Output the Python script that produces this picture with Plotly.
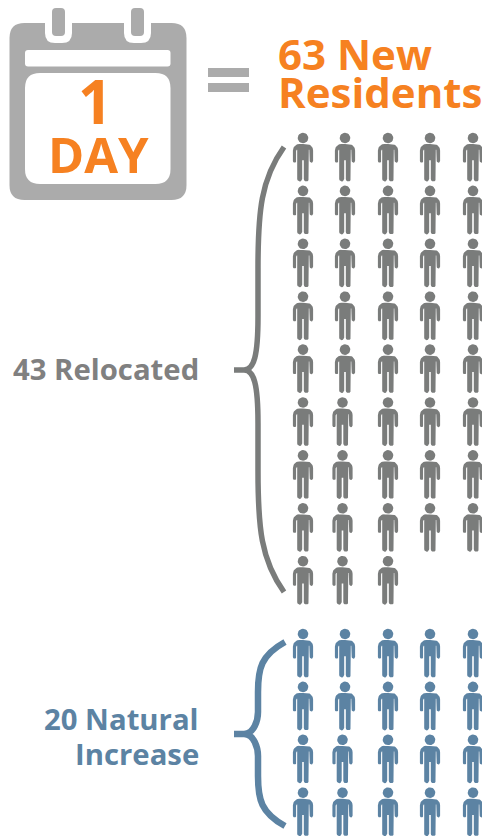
import math

import plotly.graph_objects as go

# one day of population change
group_labels = ["43 Relocated", "20 Natural<br>Increase"]
group_counts = [43, 20]
total_label = ["63 New", "Residents"]
day_label = ["1", "DAY"]

ORANGE = "#F68121"
CAL_GRAY = "#ABABAB"
GRAY = "#7A7C7B"
TEXT_GRAY = "#808080"
BLUE = "#5C83A3"
FONT = "Open Sans"

PER_ROW = 5
ROW_STEP = 52.9
COL_X = [303, 345, 388, 430, 473]


def arc(cx, cy, r, start, end, n=10):
    return [(cx + r * math.cos(math.radians(start + (end - start) * i / n)),
             cy + r * math.sin(math.radians(start + (end - start) * i / n))) for i in range(n + 1)]


def person_outline():
    # right half of the body, top of the head is y=0
    right = [(0, 11.3), (3.6, 11.3)]
    right += arc(3.6, 17.7, 6.5, -90, 0)
    right += arc(8.4, 28.2, 1.7, 0, 180, 6)
    right += [(6.9, 18.2), (6.3, 17), (5.8, 17), (5.8, 46.2)]
    right += arc(3.3, 46.2, 2.5, 0, 180, 6)
    right += [(0.8, 27.5), (0, 27.5)]
    left = [(-x, y) for x, y in reversed(right)]
    return right + left


BODY = person_outline()
HEAD = arc(0, 5.2, 5.3, 0, 360, 24)


def people_trace(count, top, color, name, shift_from):
    xs, ys = [], []
    for i in range(count):
        row, col = divmod(i, PER_ROW)
        cx = COL_X[col]
        if col == 1 and row >= shift_from:
            cx -= 2.5
        cy = top + row * ROW_STEP
        for part in (BODY, HEAD):
            xs += [cx + x for x, _ in part] + [None]
            ys += [cy + y for _, y in part] + [None]
    return go.Scatter(x=xs, y=ys, mode="lines", fill="toself", fillcolor=color,
                      line=dict(width=0, color=color), hoverinfo="name", name=name)


def rrect(x0, y0, x1, y1, r):
    return (f"M{x0 + r},{y0} L{x1 - r},{y0} Q{x1},{y0} {x1},{y0 + r} L{x1},{y1 - r} Q{x1},{y1} {x1 - r},{y1} "
            f"L{x0 + r},{y1} Q{x0},{y1} {x0},{y1 - r} L{x0},{y0 + r} Q{x0},{y0} {x0 + r},{y0} Z")


def fill_shape(path, color):
    return dict(type="path", path=path, fillcolor=color, line=dict(width=0), xref="x", yref="y", layer="below")


def brace(xs, xm, xt, y0, yc, y1, color, width):
    h = (y1 - y0) / 2
    k = h * 0.32
    path = (f"M{xt},{y0} C{xm + 3},{y0 + k * 0.45} {xm},{y0 + k * 0.9} {xm},{y0 + k * 1.7} "
            f"L{xm},{yc - k * 0.75} C{xm},{yc - 14} {xm - 4},{yc} {xs + 10},{yc} L{xs},{yc} "
            f"M{xs + 10},{yc} C{xm - 4},{yc} {xm},{yc + 14} {xm},{yc + k * 0.75} "
            f"L{xm},{y1 - k * 1.7} C{xm},{y1 - k * 0.9} {xm + 3},{y1 - k * 0.45} {xt},{y1}")
    return dict(type="path", path=path, line=dict(color=color, width=width), xref="x", yref="y", layer="below")


fig = go.Figure()
fig.add_trace(people_trace(group_counts[0], 132.8, GRAY, group_labels[0], 5))
fig.add_trace(people_trace(group_counts[1], 628.8, BLUE, group_labels[1], 2))

shapes = [
    fill_shape(rrect(9.5, 23, 186.5, 200, 15), CAL_GRAY),
    fill_shape(rrect(45, 10, 72, 43, 10), "white"),
    fill_shape(rrect(124, 10, 151, 43, 10), "white"),
    fill_shape(rrect(52, 8, 65, 36, 4), CAL_GRAY),
    fill_shape(rrect(131, 8, 144, 36, 4), CAL_GRAY),
    fill_shape(rrect(25, 50, 170.5, 66.5, 3), "white"),
    fill_shape(rrect(25, 73, 170.5, 184, 15), "white"),
    fill_shape("M208,68 L249,68 L249,77 L208,77 Z", CAL_GRAY),
    fill_shape("M208,83 L249,83 L249,92 L208,92 Z", CAL_GRAY),
    brace(234, 258, 284, 147, 370, 592, GRAY, 5.5),
    brace(234, 258, 285, 642, 734, 826, BLUE, 6.5),
]


def text(x, y, s, size, color, anchor="left"):
    return dict(x=x, y=y, text=f"<b>{s}</b>", showarrow=False, xref="x", yref="y", xanchor=anchor, yanchor="middle",
                align="right" if anchor == "right" else "left", xshift=0,
                font=dict(family=FONT, size=size, color=color))


annotations = [
    text(276, 53, total_label[0], 42, ORANGE),
    text(276, 91, total_label[1], 42, ORANGE),
    text(95, 101, day_label[0], 60, ORANGE, "center"),
    text(98.5, 154, day_label[1], 49, ORANGE, "center"),
    text(201, 369, group_labels[0], 29.3, TEXT_GRAY, "right"),
    text(201, 719, "20 Natural", 29.3, BLUE, "right"),
    text(201, 754, "Increase", 29.3, BLUE, "right"),
]

fig.update_layout(
    width=482, height=836, margin=dict(l=0, r=0, t=0, b=0),
    paper_bgcolor="white", plot_bgcolor="white", showlegend=False,
    xaxis=dict(range=[0, 482], visible=False, fixedrange=True),
    yaxis=dict(range=[836, 0], visible=False, fixedrange=True),
    shapes=shapes, annotations=annotations,
)

fig.write_html("out.html", config={"displayModeBar": False},
               post_script="document.body.style.margin = '0'; document.documentElement.style.overflow = 'hidden';")
